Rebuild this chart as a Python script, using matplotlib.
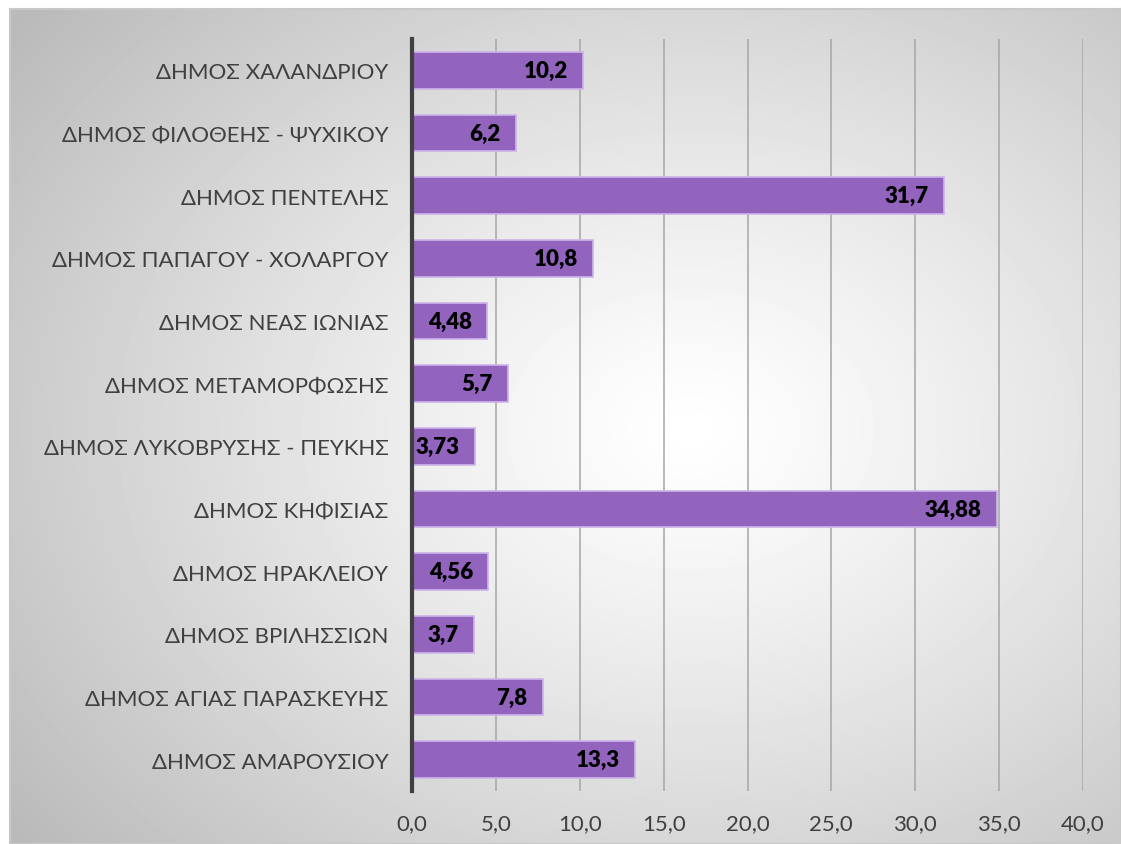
import matplotlib
matplotlib.use("Agg")
import matplotlib.pyplot as plt
import numpy as np

# ---------------------------------------------------------------------------
# Data (top to bottom as shown)
# ---------------------------------------------------------------------------
municipalities = [
    "ΔΗΜΟΣ ΧΑΛΑΝΔΡΙΟΥ",
    "ΔΗΜΟΣ ΦΙΛΟΘΕΗΣ - ΨΥΧΙΚΟΥ",
    "ΔΗΜΟΣ ΠΕΝΤΕΛΗΣ",
    "ΔΗΜΟΣ ΠΑΠΑΓΟΥ - ΧΟΛΑΡΓΟΥ",
    "ΔΗΜΟΣ ΝΕΑΣ ΙΩΝΙΑΣ",
    "ΔΗΜΟΣ ΜΕΤΑΜΟΡΦΩΣΗΣ",
    "ΔΗΜΟΣ ΛΥΚΟΒΡΥΣΗΣ - ΠΕΥΚΗΣ",
    "ΔΗΜΟΣ ΚΗΦΙΣΙΑΣ",
    "ΔΗΜΟΣ ΗΡΑΚΛΕΙΟΥ",
    "ΔΗΜΟΣ ΒΡΙΛΗΣΣΙΩΝ",
    "ΔΗΜΟΣ ΑΓΙΑΣ ΠΑΡΑΣΚΕΥΗΣ",
    "ΔΗΜΟΣ ΑΜΑΡΟΥΣΙΟΥ",
]
values = [10.2, 6.2, 31.7, 10.8, 4.48, 5.7, 3.73, 34.88, 4.56, 3.7, 7.8, 13.3]
xticks = [0, 5, 10, 15, 20, 25, 30, 35, 40]

W, H = 1121, 845
BAR = "#9264be"
FONT = ["Lato", "DejaVu Sans"]

fig = plt.figure(figsize=(W / 100, H / 100), dpi=100)
fig.patch.set_facecolor("white")

# radial gradient panel behind the chart
bg = fig.add_axes([10 / W, 0, 1 - 10 / W, 1 - 10 / H])
yy, xx = np.mgrid[0:H - 10, 0:W - 10]
cx, cy = 680, 420
r = np.hypot((xx - cx) / 850.0, (yy - cy) / 650.0)
shade = 1.0 - 0.27 * np.clip(r, 0, 1) ** 1.2
bg.imshow(shade, cmap="gray", vmin=0, vmax=1, aspect="auto",
          extent=[0, 1, 0, 1], interpolation="bilinear")
bg.set_xticks([])
bg.set_yticks([])
for s in bg.spines.values():
    s.set_color("#c8c8c8")
    s.set_linewidth(1.5)
bg.set_zorder(0)

ax = fig.add_axes([412 / W, 1 - 792 / H, (1083 - 412) / W, (792 - 40) / H])
ax.set_zorder(1)
ax.patch.set_alpha(0)

y = np.arange(len(municipalities))
ax.barh(y, values, height=0.59, color=BAR, edgecolor="#cdb4ea",
        linewidth=1.2, zorder=3)
ax.set_ylim(len(municipalities) - 0.5, -0.5)
ax.set_xlim(0, 40)

ax.set_yticks(y, municipalities)
ax.set_xticks(xticks, [f"{t:.1f}".replace(".", ",") for t in xticks])
for lab in ax.get_yticklabels() + ax.get_xticklabels():
    lab.set_family(FONT)
    lab.set_fontsize(16)
    lab.set_color("#404040")
ax.tick_params(axis="y", length=0, pad=17)
ax.tick_params(axis="x", length=0, pad=16)

ax.grid(axis="x", color="#a6a6a6", linewidth=1.1, zorder=1)
ax.set_axisbelow(True)
for side in ("top", "right", "bottom"):
    ax.spines[side].set_visible(False)
ax.spines["left"].set_color("#404040")
ax.spines["left"].set_linewidth(3)
ax.spines["left"].set_zorder(4)

for yi, v in zip(y, values):
    ax.annotate(f"{v:g}".replace(".", ","), xy=(v, yi), xytext=(-11, 0),
                textcoords="offset points", ha="right", va="center",
                fontsize=16, fontweight="heavy", family=FONT, color="black",
                zorder=5)

fig.savefig("out.png", dpi=100)
